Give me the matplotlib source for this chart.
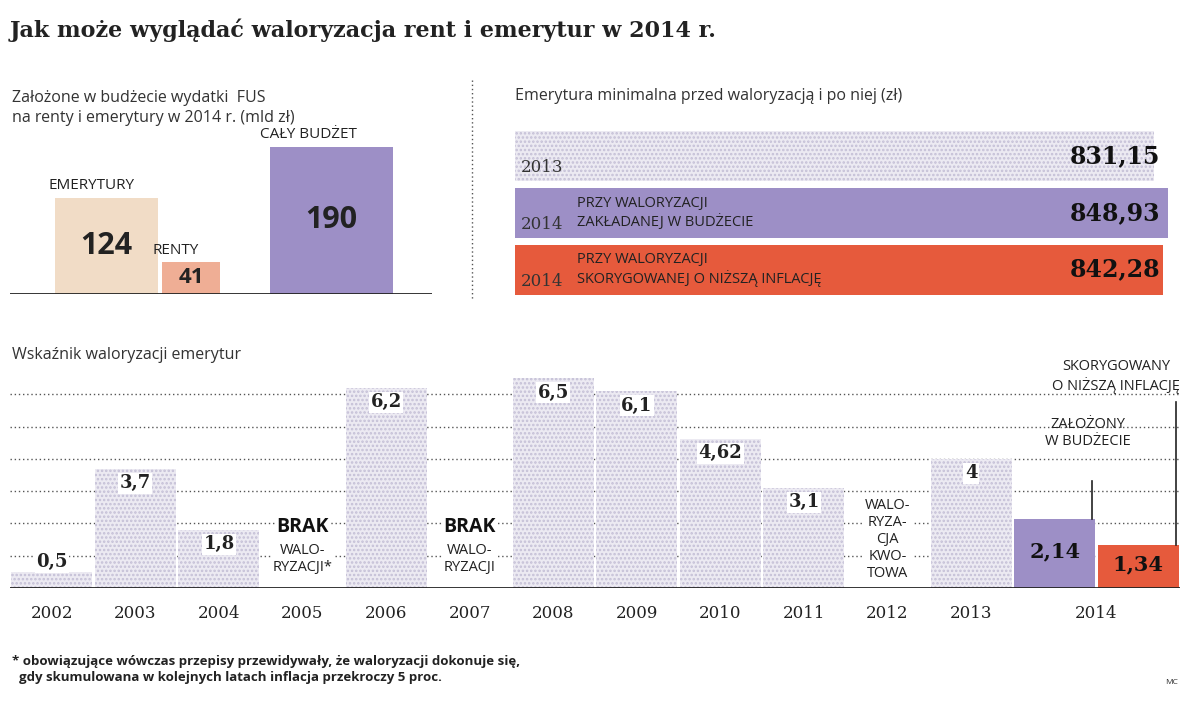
import matplotlib.pyplot as plt
import numpy as np

# data
budget_labels = ['EMERYTURY', 'RENTY', 'CAŁY BUDŻET']
budget_values = [124, 41, 190]

min_years = ['2013', '2014', '2014']
min_notes = ['', 'PRZY WALORYZACJI\nZAKŁADANEJ W BUDŻECIE', 'PRZY WALORYZACJI\nSKORYGOWANEJ O NIŻSZĄ INFLACJĘ']
min_values = [831.15, 848.93, 842.28]

years = ['2002', '2003', '2004', '2005', '2006', '2007', '2008', '2009', '2010', '2011', '2012', '2013']
index_values = [0.5, 3.7, 1.8, None, 6.2, None, 6.5, 6.1, 4.62, 3.1, None, 4]
idx_2014 = [2.14, 1.34]

W, H = 1200, 703
fig = plt.figure(figsize=(12, 7.03), dpi=100)
plt.rcParams['font.family'] = 'Open Sans'
plt.rcParams['hatch.linewidth'] = 1.2

dot_face = '#eceaf2'
dot_col = '#c4bfd6'

def box(x0, y0, x1, y1):
    # pixel box -> figure fraction
    return [x0 / W, 1 - y1 / H, (x1 - x0) / W, (y1 - y0) / H]

def ftxt(x, y, s, **kw):
    fig.text(x / W, 1 - y / H, s, **kw)

ftxt(10, 30, 'Jak może wyglądać waloryzacja rent i emerytur w 2014 r.', fontsize=16,
     fontweight='bold', family='DejaVu Serif', va='center', color='#222222')

# top-left panel
ftxt(12, 108, 'Założone w budżecie wydatki  FUS\nna renty i emerytury w 2014 r. (mld zł)',
     fontsize=11.5, va='center', color='#333333', linespacing=1.35)
ax1 = fig.add_axes(box(10, 140, 432, 294))
bx = [96, 181, 321]
bw = [103, 58, 123]
bc = ['#f1dcc6', '#efae95', '#9d8fc6']
ax1.bar(bx, budget_values, width=bw, color=bc)
ax1.set_xlim(0, 422)
ax1.set_ylim(0, 124 * 154 / 96)
for x, v, lab, w in zip(bx, budget_values, budget_labels, bw):
    ax1.text(x, v / 2 if v > 50 else v / 2 + 1, str(v), ha='center', va='center',
             fontsize=22 if v > 50 else 16, fontweight='bold', color='#222222')
ax1.text(48 - 10, 124 + 6, budget_labels[0], fontsize=11, va='bottom', color='#222222')
ax1.text(152 - 10, 41 + 6, budget_labels[1], fontsize=11, va='bottom', color='#222222')
ax1.text(260 - 10, 190 + 6, budget_labels[2], fontsize=11, va='bottom', color='#222222')
ax1.axis('off')
ax1.axhline(0, color='#222222', lw=2)
for t in ax1.texts:
    t.set_clip_on(False)

# divider
fig.add_artist(plt.Line2D([472 / W] * 2, [1 - 80 / H, 1 - 300 / H], color='#555555',
                          lw=1, ls=(0, (1, 2))))

# top-right panel
ftxt(515, 96, 'Emerytura minimalna przed waloryzacją i po niej (zł)', fontsize=11.5,
     va='center', color='#333333')
ax2 = fig.add_axes(box(515, 128, 1168, 298))
ypos = [2, 1, 0]
cols = [dot_face, '#9d8fc6', '#e65a3c']
bars = ax2.barh(ypos, min_values, height=0.88, color=cols, left=0, lw=0)
bars[0].set_hatch('....')
bars[0].set_edgecolor(dot_col)
ax2.set_xlim(0, max(min_values))
ax2.set_ylim(-0.5, 2.5)
for y, yr, note, v in zip(ypos, min_years, min_notes, min_values):
    ax2.text(8, y - 0.2, yr, fontsize=12, va='center', color='#333333', family='DejaVu Serif')
    ax2.text(80, y, note, fontsize=10.5, va='center', color='#222222', linespacing=1.2)
    ax2.text(max(min_values) - 10, y, f'{v:.2f}'.replace('.', ','), fontsize=17,
             fontweight='bold', ha='right', va='center', color='#111111', family='DejaVu Serif')
ax2.axis('off')

# bottom chart
ftxt(12, 355, 'Wskaźnik waloryzacji emerytur', fontsize=11.5, va='center', color='#333333')
ax3 = fig.add_axes(box(10, 362, 1180, 588))
ax3.set_xlim(-0.5, 13.5)
ax3.set_ylim(0, 7)
for g in range(1, 7):
    ax3.axhline(g, color='#555555', lw=1, ls=(0, (1, 2)), zorder=0)
for i, v in enumerate(index_values):
    if v is None:
        continue
    ax3.bar(i, v, width=0.97, color=dot_face, hatch='....', edgecolor=dot_col,
            lw=0, zorder=1)
    ty = v + 0.3 if v < 1 else v - 0.45
    ax3.text(i, ty, f'{v:g}'.replace('.', ','), ha='center', va='center', fontsize=13,
             fontweight='bold', family='DejaVu Serif', color='#222222', zorder=3,
             bbox=dict(fc='white', ec='none', pad=1))
ax3.bar([12, 13], idx_2014, width=0.97, color=['#9d8fc6', '#e65a3c'], zorder=2)
for i, v in zip([12, 13], idx_2014):
    ax3.text(i, v / 2 + 0.05, f'{v:g}'.replace('.', ','), ha='center', va='center',
             fontsize=15, fontweight='bold', family='DejaVu Serif', color='#111111', zorder=3)
for i in [3, 5]:
    ax3.text(i, 1.9, 'BRAK', ha='center', va='center', fontsize=14, fontweight='bold',
             color='#111111', bbox=dict(fc='white', ec='none', pad=1))
ax3.text(3, 0.9, 'WALO-\nRYZACJI*', ha='center', va='center', fontsize=10.5,
         color='#222222', linespacing=1.2, bbox=dict(fc='white', ec='none', pad=1))
ax3.text(5, 0.9, 'WALO-\nRYZACJI', ha='center', va='center', fontsize=10.5,
         color='#222222', linespacing=1.2, bbox=dict(fc='white', ec='none', pad=1))
ax3.text(10, 1.5, 'WALO-\nRYZA-\nCJA\nKWO-\nTOWA', ha='center', va='center', fontsize=10.5,
         color='#222222', linespacing=1.2, bbox=dict(fc='white', ec='none', pad=1))
ax3.text(13.5, 6.55, 'SKORYGOWANY\nO NIŻSZĄ INFLACJĘ', ha='right', va='center', fontsize=10.5,
         color='#222222', linespacing=1.2, multialignment='center')
ax3.text(12.4, 4.8, 'ZAŁOŻONY\nW BUDŻECIE', ha='center', va='center', fontsize=10.5,
         color='#222222', linespacing=1.2)
ax3.plot([12.45, 12.45], [2.14, 3.3], color='#222222', lw=1.2)
ax3.plot([13.45, 13.45], [1.34, 5.75], color='#222222', lw=1.2)
ax3.axhline(0, color='#222222', lw=2, zorder=4)
ax3.set_xticks(list(range(12)) + [12.5])
ax3.set_xticklabels(years + ['2014'], fontsize=12, family='DejaVu Serif', color='#222222')
ax3.tick_params(length=0, pad=12)
ax3.set_yticks([])
for s in ax3.spines.values():
    s.set_visible(False)

ftxt(12, 670, '* obowiązujące wówczas przepisy przewidywały, że waloryzacji dokonuje się,\n'
     '  gdy skumulowana w kolejnych latach inflacja przekroczy 5 proc.', fontsize=9.5,
     va='center', color='#222222', fontweight='bold', linespacing=1.3)
ftxt(1165, 682, 'MC', fontsize=6, va='center', color='#333333')

fig.savefig('out.png', dpi=100, facecolor='white')
